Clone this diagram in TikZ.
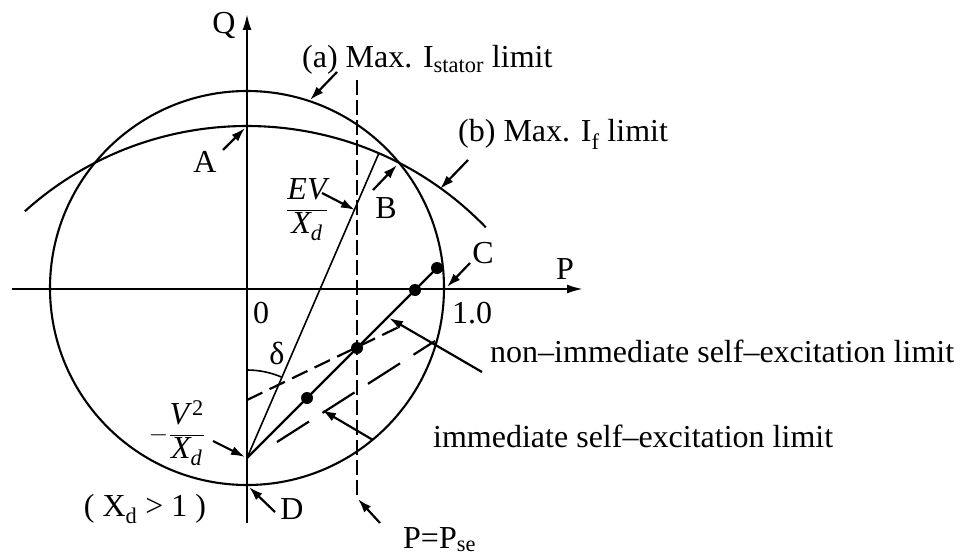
\documentclass[tikz,border=0pt]{standalone}
\usepackage{fontspec}
\setmainfont{Liberation Serif}
\usetikzlibrary{arrows.meta}
\begin{document}
\begin{tikzpicture}[x=1pt,y=-1pt,
  every node/.style={inner sep=0pt, font=\fontsize{32}{38}\selectfont},
  curve/.style={line width=2.1pt},
  ptr/.style={line width=2.2pt,-{Latex[length=14pt,width=9pt]}},
  axis/.style={line width=2.2pt,-{Latex[length=16pt,width=9pt]}},
  dot/.style={circle,fill,inner sep=0pt,minimum size=12pt},
  vdash/.style={line width=2.2pt,dash pattern=on 15pt off 5pt},
  dashA/.style={line width=2.2pt,dash pattern=on 17pt off 8pt},
  dashB/.style={line width=2.2pt,dash pattern=on 38pt off 16pt},
]
\useasboundingbox (0,0) rectangle (965,556);
% axes
\coordinate (Qb) at (247,523);
\coordinate (Qt) at (247,14);
\coordinate (Pl) at (12,289);
\coordinate (Pr) at (583,289);
\draw[axis] (Qb) -- (Qt);
\draw[axis] (Pl) -- (Pr);
% stator circle
\coordinate (Sc) at (247,288);
\draw[curve] (Sc) circle[radius=197pt];
% field current arc
\coordinate (V) at (247,458);
\draw[curve] ([shift={(132:332pt)}]V) arc[start angle=132,end angle=44,radius=332pt];
% EV/Xd radius and delta arc
\draw[line width=1.6pt] (V) -- ([shift={(66.6:332pt)}]V) coordinate (E);
\draw[line width=1.6pt] ([shift={(90:88pt)}]V) arc[start angle=90,end angle=66.6,radius=88pt];
% P = Pse line
\coordinate (Pst) at (357,80);
\coordinate (Psb) at (357,497);
\draw[vdash] (Pst) -- (Psb);
% self-excitation lines
\coordinate (S1) at (307,398);
\coordinate (S2) at (357,348);
\coordinate (S3) at (415,290);
\coordinate (S4) at (437,268);
\draw[line width=2.2pt] (V) -- (S4);
\foreach \p in {S1,S2,S3,S4} \node[dot] at (\p) {};
\coordinate (N0) at (247,400);
\coordinate (N1) at (403,325);
\draw[dashA] (N0) -- (N1);
\coordinate (M0) at (277,442);
\coordinate (M1) at (435,341);
\draw[dashB] (M0) -- (M1);
% labels
\node (Q) at (224,26) {Q};
\node (P) at (565,269) {P};
\node (zero) at (261,313) {0};
\node (one) at (472,313) {1.0};
\node (A) at (205,162) {A};
\node (B) at (386,208) {B};
\node (C) at (483,253) {C};
\node (D) at (292,509) {D};
\node (delta) at (277,353) {δ};
\node[anchor=base west] (la) at (302,68) {(a) Max. I\textsubscript{stator} limit};
\node[anchor=base west] (lb) at (458,142) {(b) Max. I\textsubscript{f} limit};
\node (EV) at (307,210) {$\displaystyle\frac{\mbox{\itshape EV}}{\mbox{\itshape X\textsubscript{d}}}$};
\node (V2) at (177,433) {$-\displaystyle\frac{\mbox{\itshape V\/\upshape\textsuperscript{2}}}{\mbox{\itshape X\textsubscript{d}}}$};
\node (Xd) at (145,509) {( X\textsubscript{d} > 1 )};
\node[anchor=base west] (Pse) at (403,548) {P=P\textsubscript{se}};
\node[anchor=base west] (nonimm) at (490,362) {non–immediate self–excitation limit};
\node[anchor=base west] (imm) at (433,447) {immediate self–excitation limit};
% pointer arrows
\coordinate (aT) at (337,72);  \coordinate (aH) at (310,100);
\coordinate (bT) at (468,160); \coordinate (bH) at (440,189);
\coordinate (AT) at (223,150); \coordinate (AH) at (245,128);
\coordinate (BT) at (373,190); \coordinate (BH) at (397,165);
\coordinate (ET) at (322,193); \coordinate (EH) at (355,210);
\coordinate (CT) at (470,263); \coordinate (CH) at (447,287);
\coordinate (VT) at (213,441); \coordinate (VH) at (245,457);
\coordinate (DT) at (275,512); \coordinate (DH) at (249,487);
\coordinate (PT) at (380,523); \coordinate (PH) at (358,499);
\coordinate (nT) at (482,372); \coordinate (nH) at (389,318);
\coordinate (iT) at (373,440); \coordinate (iH) at (322,410);
\foreach \t/\h in {aT/aH,bT/bH,AT/AH,BT/BH,ET/EH,CT/CH,VT/VH,DT/DH,PT/PH,nT/nH,iT/iH}
  \draw[ptr] (\t) -- (\h);
\end{tikzpicture}
\end{document}
